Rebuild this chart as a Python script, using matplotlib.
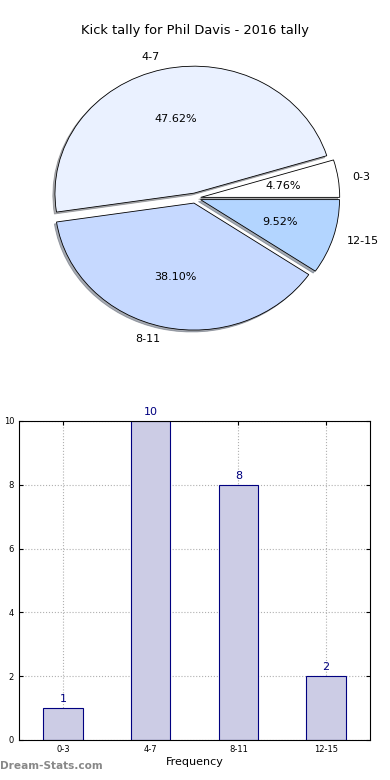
#!/usr/bin/env python3
"""Kick tally pie + frequency bar chart for Phil Davis (2016)."""

import matplotlib
import matplotlib.pyplot as plt

matplotlib.use("Agg")

# Data
categories = ["0-3", "4-7", "8-11", "12-15"]
counts = [1, 10, 8, 2]
pie_colors = ["#ffffff", "#eaf1ff", "#c6d9ff", "#b3d5ff"]
explode = [0.04, 0.04, 0.04, 0.04]

fig = plt.figure(figsize=(3.9, 7.8), dpi=100)

# Pie chart (egg-shaped like the original, aspect not forced equal)
ax_pie = fig.add_axes([0.055, 0.5425, 0.891, 0.407])
wedges, texts, autotexts = ax_pie.pie(
    counts,
    labels=categories,
    colors=pie_colors,
    explode=explode,
    autopct="%.2f%%",
    shadow={"ox": -0.011, "oy": -0.011, "shade": 0.6},
    startangle=0,
    wedgeprops={"edgecolor": "black", "linewidth": 0.6},
    textprops={"fontsize": 8},
)
ax_pie.set_aspect("auto")
ax_pie.set_xlim(-1.25, 1.25)
ax_pie.set_ylim(-1.25, 1.25)
fig.text(0.5, 0.961, "Kick tally for Phil Davis - 2016 tally",
         ha="center", va="center", fontsize=9.4)

# Bar chart
ax_bar = fig.add_axes([0.0487, 0.0513, 0.9, 0.409])
x = list(range(len(categories)))
ax_bar.bar(x, counts, width=0.45, color="#ccccE5",
           edgecolor="navy", linewidth=0.8, zorder=2)
for xi, c in zip(x, counts):
    ax_bar.text(xi, c + 0.12, str(c), ha="center", va="bottom",
                color="navy", fontsize=8)

ax_bar.set_xlim(-0.5, 3.5)
ax_bar.set_ylim(0, 10)
ax_bar.set_xticks(x)
ax_bar.set_xticklabels(categories)
ax_bar.set_yticks([0, 2, 4, 6, 8, 10])
ax_bar.tick_params(labelsize=6, direction="in", length=3, top=True, right=True)
ax_bar.grid(True, linestyle=":", color="#b0b0b0", linewidth=0.8, zorder=0)
ax_bar.set_xlabel("Frequency", fontsize=8, labelpad=2)
ax_bar.set_ylabel("Occurrences", fontsize=7, labelpad=12)

fig.text(0.0, 0.012, "Dream-Stats.com", ha="left", va="bottom",
         fontsize=7.6, color="#888888", fontweight="bold")

fig.savefig("out.png", dpi=100)
